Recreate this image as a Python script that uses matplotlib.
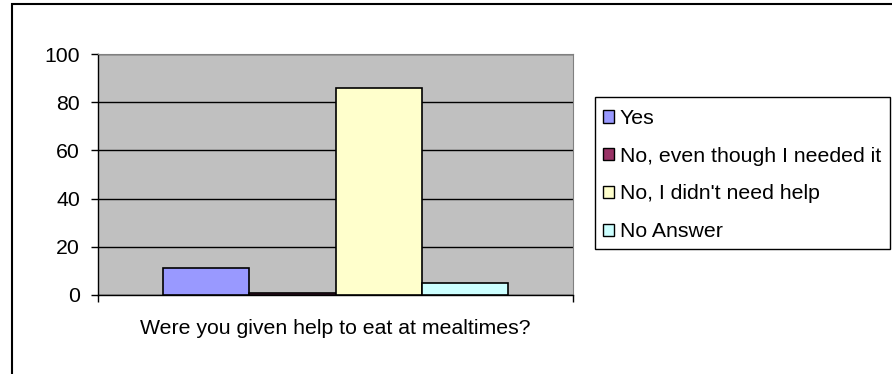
import matplotlib.pyplot as plt
from matplotlib.patches import Patch, Rectangle

plt.rcParams['font.family'] = ['Liberation Sans', 'DejaVu Sans']

# data
category = 'Were you given help to eat at mealtimes?'
answers = ['Yes', 'No, even though I needed it', "No, I didn't need help", 'No Answer']
values = [11, 1, 86, 5]
colors = ['#9999FF', '#993366', '#FFFFCC', '#CCFFFF']
yticks = [0, 20, 40, 60, 80, 100]

fs = 15.3
W, H = 892, 374

fig = plt.figure(figsize=(W / 100, H / 100), dpi=100)
ax = fig.add_axes([98 / W, 1 - 295 / H, 475 / W, 241 / H])

# excel style: gap width 150%
gap = 1.5
w = 1 / (len(values) + gap)
for i, (v, c) in enumerate(zip(values, colors)):
    off = (i - (len(values) - 1) / 2) * w
    ax.bar(off, v, width=w, color=c, edgecolor='black', linewidth=1.2, zorder=3)

ax.set_facecolor('#C0C0C0')
ax.set_xlim(-0.5, 0.5)
ax.set_ylim(0, 100)
ax.set_yticks(yticks)
ax.yaxis.grid(True, color='black', linewidth=1.0)
ax.set_axisbelow(True)

ax.set_xticks([0])
ax.set_xticklabels([category])
ax.set_xticks([-0.5, 0.5], minor=True)
ax.tick_params(axis='x', which='major', length=0, pad=17, labelsize=fs)
ax.tick_params(axis='x', which='minor', length=5, width=1.0, direction='out')
ax.tick_params(axis='y', length=5, width=1.0, direction='out', pad=8, labelsize=fs)

for s in ['top', 'right']:
    ax.spines[s].set_color('#808080')
    ax.spines[s].set_linewidth(0.8)
for s in ['left', 'bottom']:
    ax.spines[s].set_color('black')
    ax.spines[s].set_linewidth(1.0)

# legend entries without frame, the box is drawn separately
handles = [Patch(facecolor=c, edgecolor='black', linewidth=1.0) for c in colors]
fig.legend(handles, answers, loc='upper left', bbox_to_anchor=(603 / W, 1 - 109 / H),
           fontsize=fs, frameon=False,
           handlelength=0.5, handleheight=0.5, handletextpad=0.3,
           labelspacing=0.88, borderpad=0, borderaxespad=0)
fig.patches.append(Rectangle((595 / W, 1 - 249 / H), 295 / W, 152 / H, transform=fig.transFigure,
                             fill=False, edgecolor='black', linewidth=1.0))

# chart area border (only left and top are visible in the crop)
fig.patches.append(Rectangle((12 / W, -0.1), 1.2, 1 - 4 / H + 0.1, transform=fig.transFigure,
                             fill=False, edgecolor='black', linewidth=1.5))

fig.savefig('out.png', dpi=100)
